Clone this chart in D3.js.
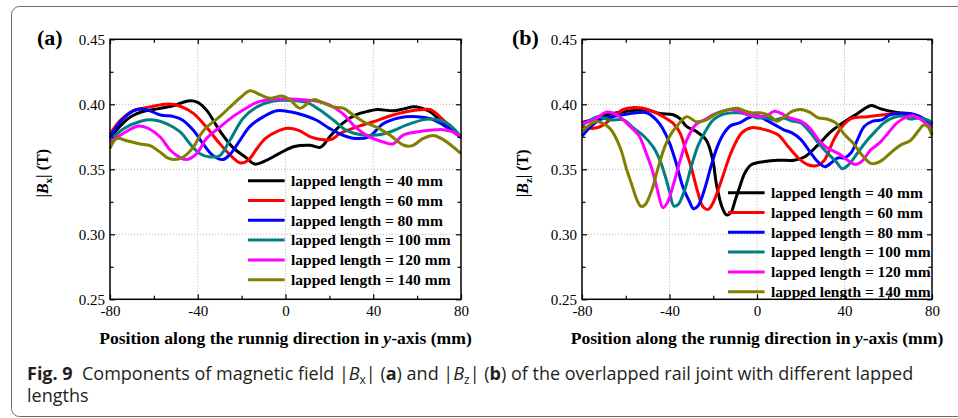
<!DOCTYPE html>
<html><head><meta charset="utf-8">
<script src="https://cdn.jsdelivr.net/npm/d3@7"></script>
<style>
html,body{margin:0;padding:0;background:#fff;}
svg{display:block;}
text{white-space:pre;}
</style></head><body>
<svg id="fig" width="958" height="418"></svg>
<script>
// ---- data -------------------------------------------------------------
const lappedLengths = [40, 60, 80, 100, 120, 140];
const seriesColors = ["#000000", "#ff0000", "#0000ff", "#008080", "#ff00ff", "#808000"];
const xTicks = [-80, -40, 0, 40, 80];
const xMinorTicks = [-60, -20, 20, 60];
const yTicks = [0.25, 0.30, 0.35, 0.40, 0.45];
const yMinorTicks = [0.275, 0.325, 0.375, 0.425];
const xGrid = [-40, 0, 40];
const yGrid = [0.30, 0.35, 0.40];

// |Bx| along the rail (position mm, field T)
const bx40 = [[-80,0.374],[-75,0.384],[-70,0.391],[-65,0.3945],[-60,0.396],[-55,0.3975],[-50,0.3995],[-44.5,0.4026],[-40,0.4015],[-36,0.3955],[-30,0.3797],[-24,0.3669],[-18,0.359],[-14,0.354],[-9,0.3567],[-3,0.362],[4,0.3675],[11,0.3685],[16,0.367],[20,0.3747],[26,0.3853],[32,0.3918],[38,0.3948],[42,0.396],[49,0.395],[54,0.3965],[58.5,0.3982],[62,0.397],[66,0.3943],[72,0.385],[80,0.3747]];
const bx60 = [[-80,0.377],[-75.4,0.3875],[-69.5,0.395],[-61.7,0.398],[-53.5,0.4002],[-48,0.3985],[-42,0.393],[-36,0.3823],[-30,0.3698],[-24,0.359],[-20.5,0.3548],[-17,0.357],[-13,0.366],[-9,0.374],[-4,0.379],[1,0.3815],[6,0.380],[12,0.3745],[17,0.3728],[21,0.373],[25,0.3777],[32,0.3823],[40,0.3866],[47.6,0.391],[55,0.3943],[63,0.396],[66,0.396],[72,0.3879],[80,0.3747]];
const bx80 = [[-80,0.3747],[-74,0.389],[-67.8,0.396],[-63,0.3956],[-57,0.3918],[-51,0.3905],[-47,0.388],[-42,0.380],[-37.5,0.3695],[-33,0.3605],[-28.5,0.3575],[-25,0.362],[-20.7,0.3725],[-16.2,0.383],[-10,0.3905],[-4,0.395],[2,0.3943],[8,0.3918],[14,0.3879],[20,0.3815],[26,0.3763],[32,0.3737],[38,0.375],[44.5,0.385],[52,0.3897],[60,0.3905],[66,0.389],[72,0.384],[80,0.3747]];
const bx100 = [[-80,0.372],[-74,0.381],[-66,0.387],[-60,0.388],[-54,0.385],[-48,0.3787],[-43.5,0.3695],[-39,0.362],[-34.5,0.3595],[-30,0.3605],[-25.3,0.3725],[-19.2,0.3895],[-13,0.398],[-5.5,0.4025],[2,0.403],[9.6,0.4015],[15.7,0.3956],[21.8,0.3879],[27.8,0.380],[35.5,0.3763],[41.6,0.3763],[47.6,0.3787],[55,0.384],[64,0.3884],[70,0.3879],[75,0.384],[80,0.3747]];
const bx120 = [[-80,0.371],[-74,0.3775],[-67,0.3833],[-62,0.381],[-57,0.3747],[-52.6,0.3648],[-48,0.359],[-45,0.3575],[-40.5,0.362],[-36,0.3737],[-30,0.3823],[-24,0.3905],[-18,0.397],[-13,0.4015],[-5.5,0.4038],[2,0.404],[8,0.4035],[14,0.4026],[20,0.3995],[26,0.393],[32,0.3823],[38.5,0.3747],[44.5,0.371],[49,0.3695],[53.6,0.3763],[59.7,0.3787],[65.8,0.380],[71.8,0.3805],[76,0.379],[80,0.3747]];
const bx140 = [[-80,0.366],[-77,0.3737],[-72.4,0.372],[-66.3,0.3695],[-61.7,0.3682],[-57,0.363],[-54,0.359],[-51,0.3575],[-47,0.359],[-42,0.367],[-39,0.376],[-36,0.3823],[-30,0.3905],[-24,0.400],[-20,0.406],[-16.2,0.4105],[-11.6,0.4074],[-7,0.4046],[-1.7,0.4064],[2,0.4036],[6.6,0.397],[12.7,0.4036],[17.2,0.401],[21.8,0.398],[26.3,0.397],[30.9,0.3918],[35.5,0.3866],[41.6,0.3823],[47.6,0.3763],[53.6,0.3687],[57.4,0.368],[62.8,0.3737],[67.3,0.376],[71.9,0.3728],[80,0.3621]];

// |Bz| along the rail (position mm, field T)
const bz40 = [[-80,0.386],[-74,0.389],[-68.6,0.392],[-58,0.395],[-50.5,0.3956],[-44.4,0.393],[-38.3,0.392],[-35.2,0.389],[-32.2,0.383],[-27.7,0.379],[-23.2,0.3725],[-20.2,0.357],[-18.5,0.338],[-16,0.321],[-14,0.315],[-12,0.3166],[-10,0.326],[-8,0.336],[-5.6,0.347],[-2.6,0.3535],[3.5,0.356],[9.6,0.357],[17,0.357],[21.7,0.3595],[27.8,0.3686],[33.8,0.379],[40,0.3866],[46,0.393],[50.5,0.398],[52.5,0.399],[56.6,0.3965],[62.7,0.394],[70,0.3925],[76,0.389],[80,0.385]];
const bz60 = [[-80,0.383],[-74.7,0.3815],[-70.3,0.384],[-65.8,0.3905],[-61,0.396],[-56.6,0.3975],[-52,0.397],[-47.4,0.3943],[-42.9,0.3905],[-38.3,0.3853],[-35.2,0.378],[-32.2,0.3625],[-30,0.351],[-27,0.332],[-24.6,0.321],[-22.3,0.3192],[-20,0.3245],[-16,0.3428],[-11.7,0.3634],[-7,0.378],[-2.6,0.382],[3.5,0.3805],[9.6,0.3765],[14,0.368],[18.7,0.359],[23.2,0.3535],[27.8,0.353],[30.8,0.357],[35.4,0.3737],[40,0.385],[43,0.389],[50.5,0.3905],[58,0.392],[64,0.393],[68.8,0.3915],[76,0.3885],[80,0.3844]];
const bz80 = [[-80,0.3755],[-76,0.3828],[-72,0.388],[-66,0.3905],[-62,0.3918],[-55,0.3935],[-50.5,0.3935],[-46,0.388],[-43,0.381],[-40,0.3703],[-37,0.355],[-34,0.337],[-31,0.3256],[-29,0.3197],[-27,0.3217],[-24,0.3345],[-21,0.3524],[-18,0.368],[-15,0.378],[-12,0.3836],[-8,0.3857],[-4,0.3895],[0,0.3913],[4,0.388],[8,0.3844],[12,0.3806],[16,0.378],[20,0.373],[24,0.364],[28,0.3555],[31,0.352],[34,0.355],[37,0.3588],[40,0.3588],[43,0.3627],[46,0.373],[49,0.383],[53,0.387],[57,0.388],[61,0.392],[66,0.393],[70,0.393],[74,0.391],[78,0.387],[80,0.3844]];
const bz100 = [[-80,0.384],[-76,0.388],[-73,0.3905],[-67,0.388],[-61,0.388],[-56.6,0.382],[-52,0.376],[-47.4,0.367],[-44.4,0.357],[-42,0.345],[-40,0.333],[-38,0.3217],[-36,0.323],[-33,0.3345],[-30,0.3524],[-27,0.368],[-24,0.378],[-20,0.388],[-16,0.392],[-12,0.3934],[-8,0.3934],[-4,0.392],[0,0.3895],[4,0.3895],[8,0.388],[12,0.3895],[16,0.3872],[20,0.3857],[24,0.379],[28,0.3703],[32,0.3627],[36,0.3563],[39,0.3505],[42,0.3537],[46,0.3627],[50,0.3716],[54,0.379],[58,0.3857],[62,0.3895],[66,0.391],[70,0.3887],[74,0.3895],[78,0.388],[80,0.3857]];
const bz120 = [[-80,0.3855],[-74.7,0.388],[-68.6,0.394],[-64,0.3918],[-58,0.383],[-54,0.376],[-51,0.364],[-48,0.350],[-45.5,0.334],[-43,0.3205],[-41,0.3243],[-38,0.3396],[-35,0.3575],[-32,0.373],[-28,0.3844],[-24,0.388],[-20,0.392],[-16,0.3946],[-12,0.396],[-8,0.3946],[-4,0.392],[0,0.391],[4,0.391],[8,0.3946],[11,0.393],[15,0.3895],[20,0.387],[24,0.382],[28,0.373],[32,0.3665],[35,0.364],[38,0.3614],[42,0.3563],[45,0.3537],[48,0.3563],[52,0.365],[56,0.3703],[60,0.378],[64,0.3857],[68,0.390],[72,0.391],[76,0.387],[80,0.382]];
const bz140 = [[-80,0.379],[-74,0.3866],[-70,0.385],[-67,0.381],[-62.6,0.367],[-59.6,0.350],[-57,0.337],[-55,0.327],[-53,0.3215],[-51,0.323],[-48,0.3345],[-45,0.3524],[-42,0.368],[-39,0.378],[-36.7,0.383],[-32.2,0.3905],[-27.7,0.3866],[-23.2,0.388],[-18.4,0.393],[-13,0.396],[-9,0.397],[-5,0.3946],[-2,0.3934],[2,0.3934],[6,0.391],[9,0.387],[12,0.3895],[16,0.3946],[20,0.396],[24,0.394],[28,0.3895],[32,0.3887],[36,0.3857],[40,0.3767],[44,0.370],[48,0.361],[52,0.3545],[55,0.355],[58,0.358],[62,0.364],[66,0.369],[70,0.372],[74,0.380],[76,0.384],[78,0.383],[80,0.376]];

const bxSeries = [bx40, bx60, bx80, bx100, bx120, bx140];
const bzSeries = [bz40, bz60, bz80, bz100, bz120, bz140];

// ---- drawing ----------------------------------------------------------
const svg = d3.select("#fig");
const SERIF = "'Liberation Serif','Times New Roman',Times,serif";
const SANS = "'Open Sans','Noto Sans',sans-serif";

// rounded frame around the figure
svg.append("rect")
  .attr("x", 11.5).attr("y", 6.5)
  .attr("width", 980).attr("height", 410)
  .attr("rx", 8).attr("ry", 8)
  .attr("fill", "none").attr("stroke", "#6d6d6d").attr("stroke-width", 1);

const panels = [
  { tag: "(a)", sub: "x", series: bxSeries, x0: 110, x1: 461, tagX: 37, titleX: 48,
    legendX: 248, legendY: 180.7 },
  { tag: "(b)", sub: "z", series: bzSeries, x0: 582, x1: 932, tagX: 512, titleX: 528,
    legendX: 728, legendY: 192.7 }
];
const yTop = 39.3, yBottom = 299.3;

panels.forEach(p => {
  const x = d3.scaleLinear().domain([-80, 80]).range([p.x0, p.x1]);
  const y = d3.scaleLinear().domain([0.25, 0.45]).range([yBottom, yTop]);
  const g = svg.append("g");

  // dotted grid
  g.append("g").selectAll("line").data(xGrid).join("line")
    .attr("x1", d => x(d)).attr("x2", d => x(d))
    .attr("y1", yTop).attr("y2", yBottom)
    .attr("stroke", "#b4b4b4").attr("stroke-width", 1).attr("stroke-dasharray", "1,2");
  g.append("g").selectAll("line").data(yGrid).join("line")
    .attr("x1", p.x0).attr("x2", p.x1)
    .attr("y1", d => y(d)).attr("y2", d => y(d))
    .attr("stroke", "#b4b4b4").attr("stroke-width", 1).attr("stroke-dasharray", "1,2");

  // curves
  const line = d3.line()
    .x(d => x(d[0])).y(d => y(d[1]))
    .curve(d3.curveCatmullRom.alpha(0.5));
  g.append("g").selectAll("path").data(p.series).join("path")
    .attr("d", line)
    .attr("fill", "none")
    .attr("stroke", (d, i) => seriesColors[i])
    .attr("stroke-width", 3)
    .attr("stroke-linejoin", "round");

  // axes (ticks pointing inward on all four sides)
  const styleAxis = sel => {
    sel.select(".domain").remove();
    sel.selectAll("line").attr("stroke", "#000").attr("stroke-width", 1.2);
    sel.selectAll("text").attr("font-family", SERIF).attr("font-size", 15).attr("fill", "#000");
  };
  g.append("g").attr("transform", `translate(0,${yBottom})`)
    .call(d3.axisBottom(x).tickValues(xTicks).tickSize(-5).tickPadding(6).tickFormat(d => String(d)))
    .call(styleAxis);
  g.append("g").attr("transform", `translate(0,${yBottom})`)
    .call(d3.axisBottom(x).tickValues(xMinorTicks).tickSize(-3.5).tickFormat(""))
    .call(styleAxis);
  g.append("g").attr("transform", `translate(0,${yTop})`)
    .call(d3.axisTop(x).tickValues(xTicks).tickSize(-5).tickFormat(""))
    .call(styleAxis);
  g.append("g").attr("transform", `translate(0,${yTop})`)
    .call(d3.axisTop(x).tickValues(xMinorTicks).tickSize(-3.5).tickFormat(""))
    .call(styleAxis);
  g.append("g").attr("transform", `translate(${p.x0},0)`)
    .call(d3.axisLeft(y).tickValues(yTicks).tickSize(-5).tickPadding(5).tickFormat(d3.format(".2f")))
    .call(styleAxis);
  g.append("g").attr("transform", `translate(${p.x0},0)`)
    .call(d3.axisLeft(y).tickValues(yMinorTicks).tickSize(-3.5).tickFormat(""))
    .call(styleAxis);
  g.append("g").attr("transform", `translate(${p.x1},0)`)
    .call(d3.axisRight(y).tickValues(yTicks).tickSize(-5).tickFormat(""))
    .call(styleAxis);
  g.append("g").attr("transform", `translate(${p.x1},0)`)
    .call(d3.axisRight(y).tickValues(yMinorTicks).tickSize(-3.5).tickFormat(""))
    .call(styleAxis);

  // plot frame
  g.append("rect")
    .attr("x", p.x0).attr("y", yTop)
    .attr("width", p.x1 - p.x0).attr("height", yBottom - yTop)
    .attr("fill", "none").attr("stroke", "#000").attr("stroke-width", 1.5);

  // panel tag
  g.append("text").attr("x", p.tagX).attr("y", 45)
    .attr("font-family", SERIF).attr("font-weight", "bold").attr("font-size", 22)
    .text(p.tag);

  // y-axis title
  const yt = g.append("text")
    .attr("transform", `translate(${p.titleX},${(yTop + yBottom) / 2 + 4}) rotate(-90)`)
    .attr("text-anchor", "middle")
    .attr("font-family", SERIF).attr("font-weight", "bold").attr("font-size", 16);
  yt.append("tspan").text("|");
  yt.append("tspan").attr("font-style", "italic").text("B");
  yt.append("tspan").attr("font-size", 11).attr("dy", 4).text(p.sub);
  yt.append("tspan").attr("dy", -4).text("| (T)");

  // x-axis title
  const xt = g.append("text")
    .attr("x", (p.x0 + p.x1) / 2).attr("y", 344)
    .attr("text-anchor", "middle")
    .attr("font-family", SERIF).attr("font-weight", "bold").attr("font-size", 17.6);
  xt.append("tspan").text("Position along the runnig direction in ");
  xt.append("tspan").attr("font-style", "italic").text("y");
  xt.append("tspan").text("-axis (mm)");

  // legend
  const lg = g.append("g").selectAll("g").data(lappedLengths).join("g")
    .attr("transform", (d, i) => `translate(${p.legendX},${p.legendY + i * 19.8})`);
  lg.append("line").attr("x1", 0).attr("x2", 36.6).attr("y1", 0).attr("y2", 0)
    .attr("stroke", (d, i) => seriesColors[i]).attr("stroke-width", 3);
  lg.append("text").attr("x", 43).attr("y", 5.3)
    .attr("font-family", SERIF).attr("font-weight", "bold").attr("font-size", 15.5)
    .text(d => `lapped length = ${d} mm`);
});

// caption
const cap = svg.append("g").attr("font-family", SANS).attr("font-size", 18).attr("fill", "#231f20");
const c1 = cap.append("text").attr("x", 27).attr("y", 380);
c1.append("tspan").attr("font-weight", "bold").text("Fig. 9");
c1.append("tspan").text("  Components of magnetic field |");
c1.append("tspan").attr("font-style", "italic").text("B");
c1.append("tspan").attr("font-size", 12).attr("dy", 4).text("x");
c1.append("tspan").attr("dy", -4).text("| (");
c1.append("tspan").attr("font-weight", "bold").text("a");
c1.append("tspan").text(") and |");
c1.append("tspan").attr("font-style", "italic").text("B");
c1.append("tspan").attr("font-size", 12).attr("dy", 4).text("z");
c1.append("tspan").attr("dy", -4).text("| (");
c1.append("tspan").attr("font-weight", "bold").text("b");
c1.append("tspan").text(") of the overlapped rail joint with different lapped");
cap.append("text").attr("x", 27).attr("y", 402).text("lengths");
</script>
</body></html>
